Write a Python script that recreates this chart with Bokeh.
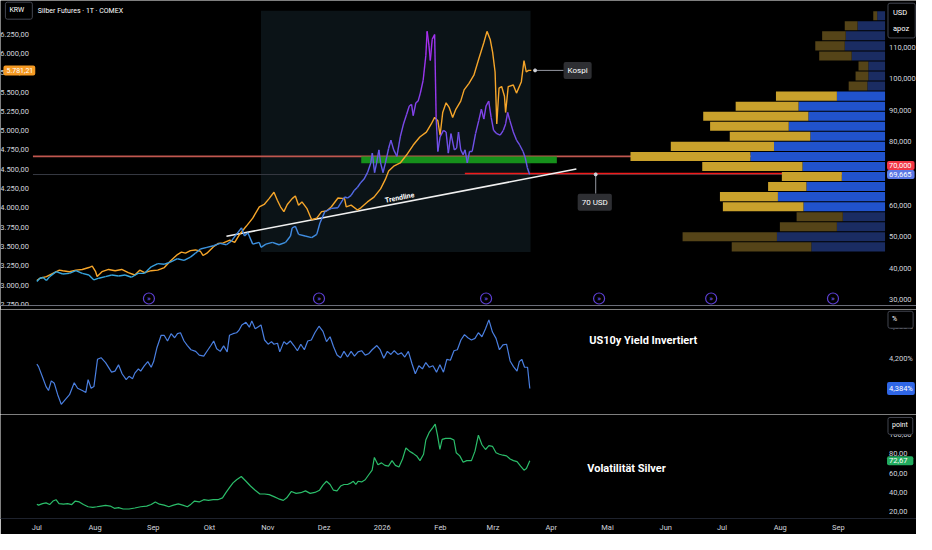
import numpy as np
from bokeh.plotting import figure
from bokeh.models import Range1d, LinearAxis, FixedTicker, Label, ColumnDataSource
from bokeh.layouts import column
from bokeh.embed import file_html
from bokeh.resources import INLINE
from bokeh.core.properties import value

# ---------------- data (x = days since 2025-07-01) ----------------
month_days = [0, 31, 62, 92, 123, 153, 184, 215, 243, 274, 304, 335, 365, 396, 427]
month_labels = ["Jul", "Aug", "Sep", "Okt", "Nov", "Dez", "2026", "Feb", "Mrz",
                "Apr", "Mai", "Jun", "Jul", "Aug", "Sep"]

kospi_day = [0, 1.6, 5.1, 8.5, 12.0, 13.8, 17.3, 20.8, 24.2, 27.7,
             29.5, 31.3, 32.1, 34.7, 38.2, 41.7, 45.2, 48.7, 52.2, 54.8,
             57.4, 60.9, 64.4, 67.9, 71.4, 74.9, 77.0, 79.2, 81.8, 84.5,
             87.1, 88.5, 90.6, 94.1, 96.7, 99.3, 102.8, 105.4, 108.0, 111.5,
             115.0, 118.5, 121.1, 123.7, 126.3, 128.1, 129.8, 131.6, 133.4, 136.0,
             137.7, 139.4, 141.2, 143.8, 146.4, 149.1, 151.7, 154.3, 156.9, 160.4,
             163.9, 164.8, 167.4, 170.8, 172.6, 176.1, 179.6, 183.1, 185.7, 187.4,
             190.1, 193.6, 197.0, 200.5, 204.0, 207.5, 210.1, 211.9, 213.6, 214.8,
             216.2, 218.0, 219.7, 221.5, 223.2, 225.8, 227.6, 230.2, 232.8, 235.4,
             238.1, 239.8, 241.5, 242.8, 244.1, 245.0, 246.2, 247.6, 249.1, 249.7,
             251.1, 253.8, 255.5, 258.1, 259.5, 260.7, 261.9, 263.4]
kospi_val = [3059, 3088, 3110, 3152, 3193, 3186, 3173, 3193, 3202, 3227,
             3244, 3173, 3110, 3173, 3202, 3186, 3202, 3160, 3130, 3193,
             3160, 3186, 3193, 3227, 3319, 3395, 3426, 3413, 3446, 3455,
             3438, 3383, 3413, 3496, 3539, 3547, 3581, 3552, 3657, 3761,
             3867, 4014, 4044, 4120, 4203, 4098, 4014, 3951, 4044, 4120,
             4153, 4035, 4077, 3994, 3846, 3868, 3951, 3960, 4014, 4128,
             4120, 4014, 4035, 3972, 4001, 4077, 4140, 4246, 4372, 4477,
             4540, 4582, 4688, 4814, 4919, 4982, 5087, 5172, 5130, 4941,
             5235, 5361, 5298, 5172, 5277, 5383, 5529, 5614, 5719, 5929,
             6140, 6287, 6182, 6014, 5761, 5087, 5551, 5572, 5446, 5235,
             5572, 5592, 5487, 5635, 5908, 5761, 5782, 5781.21]

silver_day = [0, 1.6, 3.3, 5.1, 6.8, 10.3, 13.8, 17.3, 20.8, 24.2,
              27.7, 30.4, 33.0, 36.5, 39.9, 43.5, 47.0, 50.4, 53.9, 57.4,
              60.9, 64.4, 67.9, 71.4, 74.9, 78.4, 81.8, 84.5, 87.1, 90.6,
              94.1, 97.5, 101.0, 103.7, 106.3, 109.0, 110.6, 112.4, 115.0, 118.5,
              119.4, 122.0, 125.5, 129.0, 132.5, 135.1, 136.0, 137.7, 139.4, 142.9,
              146.4, 149.1, 150.8, 153.4, 156.9, 160.4,
              163.9, 165.6, 167.4, 169.1, 170.8, 172.6, 174.3, 176.1, 177.9, 178.7,
              179.9, 181.0, 182.2, 183.1, 184.4, 185.7, 187.4, 188.6, 190.1, 191.8,
              193.6, 195.3, 197.0, 198.4, 199.6, 200.5, 201.9, 203.1, 204.3, 205.8,
              207.2, 207.9, 208.9, 209.6, 210.6, 211.9, 212.7, 213.6, 214.8, 216.6,
              218.0, 219.2, 220.6, 222.4, 223.6, 224.6, 225.8, 227.1, 228.1, 229.3,
              230.5, 231.9, 233.7, 235.4, 236.8, 238.1, 239.3, 240.7, 242.0, 243.3,
              245.0, 246.8, 248.5, 249.7, 250.8, 252.0, 253.8, 255.5, 257.2, 259.0,
              260.2, 261.3, 262.5]
silver_val = [35.78, 36.80, 37.01, 36.09, 37.32, 38.87, 38.13, 38.34, 39.18, 38.34,
              37.82, 36.27, 36.80, 37.32, 37.82, 37.51, 37.82, 37.11, 38.34, 38.34,
              40.41, 41.43, 41.22, 41.96, 42.98, 42.45, 43.50, 44.74, 46.07, 46.59,
              47.09, 47.83, 47.40, 48.63, 50.70, 52.77, 50.18, 51.23, 47.61, 48.14,
              46.59, 47.61, 48.14, 47.40, 48.14, 50.18, 52.77, 53.27, 50.70, 50.18,
              49.68, 50.70, 54.32, 57.90, 58.95, 59.14,
              62.54, 62.23, 63.06, 64.61, 65.63, 67.17, 68.22, 70.26, 73.35, 76.44,
              70.26, 73.35, 77.49, 73.35, 70.26, 73.35, 77.99, 80.58, 77.49, 75.42,
              81.60, 85.71, 88.80, 91.40, 91.89, 88.31, 92.42, 92.94, 95.51, 99.62,
              107.34, 115.07, 110.43, 105.80, 112.50, 114.05, 87.78, 76.97, 81.60, 83.67,
              83.15, 76.44, 82.62, 77.49, 77.99, 83.15, 77.49, 75.95, 77.49, 73.35,
              76.97, 76.97, 82.62, 86.76, 90.35, 87.26, 91.40, 92.94, 87.78, 83.67,
              82.62, 82.13, 83.67, 85.71, 89.33, 86.76, 83.15, 80.58, 79.04, 76.97,
              74.90, 71.81, 69.665]

us10y_day = [0, 0.9, 3.0, 4.9, 6.2, 7.7, 9.3, 11.1, 13.0, 14.9,
             17.4, 19.9, 21.7, 24.2, 26.1, 27.3, 28.9, 30.4, 32.3, 34.2,
             36.6, 39.8, 41.6, 43.5, 45.4, 47.6, 49.1, 51.0, 52.2, 54.1,
             55.3, 57.2, 59.1, 60.9, 62.2, 64.0, 66.2, 67.8, 69.6, 71.5,
             73.4, 74.9, 76.5, 78.4, 80.2, 82.1, 84.6, 86.5, 88.9, 90.8,
             92.7, 94.2, 95.8, 97.7, 99.5, 101.4, 102.6, 104.5, 106.4, 107.6,
             109.2, 111.4, 113.2, 114.5, 116.3, 117.6, 119.4, 121.3, 123.2, 125.0,
             126.3, 128.2, 129.4, 131.6, 133.1, 135.0, 136.9, 138.8, 140.6, 142.5,
             144.3, 146.2, 148.1, 150.3, 152.4, 154.3, 156.2, 158.0, 159.9, 161.8,
             163.6, 165.5, 167.4, 169.2, 171.1, 173.0, 174.9, 176.7, 178.6, 181.1,
             182.9, 184.8, 186.7, 188.6, 190.4, 192.3, 194.2, 196.0, 197.9, 199.8,
             201.6, 203.5, 205.4, 207.2, 209.1, 211.0, 212.9, 214.7, 216.6, 218.4,
             220.3, 222.2, 224.0, 225.9, 227.8, 229.6, 231.5, 233.4, 235.2, 237.1,
             239.0, 240.8, 242.7, 244.6, 246.4, 248.3, 250.2, 252.1, 253.9, 255.8,
             257.0, 258.3, 259.8, 261.4, 262.6]
us10y_val = [4.234, 4.249, 4.313, 4.372, 4.396, 4.337, 4.352, 4.422, 4.481, 4.455,
             4.422, 4.348, 4.382, 4.396, 4.408, 4.329, 4.382, 4.372, 4.204, 4.194,
             4.224, 4.283, 4.277, 4.238, 4.293, 4.329, 4.309, 4.323, 4.289, 4.263,
             4.277, 4.244, 4.218, 4.253, 4.218, 4.131, 4.056, 4.056, 4.091, 4.046,
             4.071, 4.046, 4.040, 4.091, 4.119, 4.145, 4.155, 4.178, 4.184, 4.151,
             4.119, 4.091, 4.139, 4.155, 4.121, 4.158, 4.056, 4.046, 4.040, 4.026,
             3.992, 3.976, 4.006, 3.967, 4.016, 4.006, 3.992, 4.085, 4.111, 4.095,
             4.111, 4.105, 4.158, 4.095, 4.111, 4.091, 4.119, 4.151, 4.111, 4.145,
             4.091, 4.085, 4.040, 4.000, 4.032, 4.095, 4.065, 4.125, 4.178, 4.194,
             4.155, 4.190, 4.155, 4.184, 4.158, 4.151, 4.178, 4.170, 4.145, 4.119,
             4.145, 4.198, 4.155, 4.174, 4.151, 4.174, 4.164, 4.190, 4.155, 4.230,
             4.293, 4.244, 4.263, 4.224, 4.253, 4.244, 4.283, 4.238, 4.283, 4.204,
             4.210, 4.151, 4.145, 4.085, 4.052, 4.071, 4.085, 4.075, 4.040, 4.065,
             4.016, 3.961, 4.036, 4.075, 4.145, 4.115, 4.111, 4.214, 4.249, 4.277,
             4.218, 4.204, 4.253, 4.253, 4.384]

vol_day = [0, 0.9, 3.0, 4.9, 6.8, 8.6, 10.2, 11.8, 14.2, 16.4,
           18.6, 20.5, 22.6, 24.8, 27.3, 29.8, 32.0, 34.2, 36.6, 39.1,
           41.3, 43.5, 46.0, 49.1, 52.2, 55.3, 58.5, 60.9, 63.1, 65.3,
           67.8, 70.3, 72.8, 75.3, 77.7, 80.2, 82.1, 84.0, 86.5, 88.9,
           91.4, 93.9, 96.4, 98.9, 100.8, 102.6, 104.5, 106.4, 108.9, 111.4,
           113.8, 116.3, 118.8, 121.3, 123.8, 126.3, 128.8, 131.3, 133.1, 135.6,
           138.1, 140.6, 143.1, 145.6, 148.1, 150.6, 152.4, 154.3, 156.2, 158.0,
           159.9, 161.8, 163.6, 165.5, 167.4, 168.6, 169.9, 171.1, 173.0, 174.9,
           176.7, 178.6, 179.8, 181.7, 183.6, 185.4, 187.3, 189.2, 191.0, 192.9,
           194.8, 196.6, 198.5, 200.4, 202.3, 204.1, 206.0, 207.2, 209.1, 211.0,
           212.2, 213.4, 214.7, 215.9, 217.8, 220.3, 222.2, 223.4, 225.3, 227.1,
           229.0, 231.5, 233.4, 235.2, 237.1, 239.0, 240.8, 242.7, 244.6, 246.4,
           248.3, 250.2, 252.1, 253.9, 255.8, 257.7, 259.5, 260.8, 262.6]
vol_val = [27.9, 26.9, 28.5, 29.2, 27.5, 31.1, 32.5, 28.5, 27.9, 28.5,
           27.5, 31.1, 30.2, 27.5, 25.2, 24.6, 25.2, 25.9, 26.6, 25.9,
           23.6, 24.3, 22.9, 22.9, 23.9, 25.2, 25.9, 27.5, 30.2, 27.9,
           26.9, 25.2, 26.9, 28.2, 26.9, 25.2, 27.9, 31.1, 30.2, 32.5,
           31.8, 32.5, 32.5, 34.4, 40.0, 44.9, 49.9, 53.1, 56.4, 51.5,
           46.6, 42.3, 38.4, 38.4, 37.7, 35.7, 33.4, 31.8, 34.4, 41.0,
           39.0, 39.7, 41.6, 39.0, 40.0, 42.3, 47.6, 51.5, 48.2, 42.3,
           41.6, 46.6, 48.2, 48.2, 49.9, 51.5, 48.2, 51.5, 50.8, 53.1,
           58.0, 63.0, 76.1, 68.5, 70.5, 67.9, 67.2, 72.8, 67.9, 66.2,
           74.5, 85.9, 82.6, 80.3, 77.7, 72.8, 79.4, 94.1, 102.3, 107.2,
           110.5, 99.1, 84.3, 94.8, 95.8, 95.8, 94.1, 81.0, 77.7, 71.2,
           72.8, 72.8, 82.6, 99.1, 89.2, 84.3, 88.2, 87.6, 81.0, 79.4,
           78.4, 77.7, 74.5, 72.8, 71.8, 67.2, 63.0, 64.6, 72.67]

# fixed range volume profile (rows bottom -> top, in USD)
profile_start, profile_end = 119.4, 263.0
profile_low, profile_high = 45.14, 121.6
value_area_low, value_area_high = 57.9, 96.1
vp_down = [75, 110, 49, 43, 83, 109, 80, 44, 84, 137, 113, 76, 98, 78, 88, 49, 18, 17, 17, 34, 41, 40, 28, 8]
vp_up = [81, 96, 58, 47, 82, 59, 39, 61, 102, 122, 105, 82, 80, 107, 64, 62, 19, 13, 10, 33, 30, 24, 13, 4]

zone_start, zone_end, zone_low, zone_high = 172.8, 277.0, 73.26, 75.42
level_70, level_70_start = 70.0, 228.0
trend_day = [101.0, 287.4]
trend_val = [50.08, 71.4]
event_days = [59.7, 150.3, 239.3, 299.5, 359.2, 424.1]
kospi_note_day, usd_note_day = 280.6, 297.7

# ---------------- layout / styling ----------------
BG = "#000000"
FONT = "Roboto"
TXT = "#d1d4dc"
SEP = "#6a6d78"
ORANGE = "#f5a52a"
BOXLINE = "#434651"
W = 916
SX = W / 932.0           # screen scale relative to the reference

pane_left, pane_right = -2.09, 451.83     # where the price scales sit (days)
x_range = Range1d(-19.37, 468.59)


def de(v, nd):
    s = f"{v:,.{nd}f}"
    return s.replace(",", "X").replace(".", ",").replace("X", ".")


def make_fig(height, y_range, bottom=0):
    p = figure(width=W, height=height, x_range=x_range, y_range=y_range,
               output_backend="svg", toolbar_location=None,
               x_axis_location="below", y_axis_location=None,
               min_border_left=0, min_border_right=0, min_border_top=0, min_border_bottom=bottom,
               background_fill_color=BG, border_fill_color=BG, outline_line_color=None)
    p.grid.visible = False
    return p


def price_axis(p, side, ticks, labels, y_range_name="default"):
    ax = LinearAxis(y_range_name=y_range_name)
    ax.fixed_location = pane_left if side == "left" else pane_right
    ax.ticker = FixedTicker(ticks=ticks)
    ax.major_label_overrides = dict(zip(ticks, labels))
    ax.axis_line_color = None
    ax.major_tick_line_color = None
    ax.minor_tick_line_color = None
    ax.major_tick_out = 0
    ax.major_tick_in = 0
    ax.major_label_standoff = 4
    ax.major_label_text_color = TXT
    ax.major_label_text_font = FONT
    ax.major_label_text_font_size = "7.5px"
    p.add_layout(ax, side)
    return ax


def separator(ax):
    ax.ticker = FixedTicker(ticks=[])
    ax.axis_line_color = SEP
    ax.axis_line_width = 1
    ax.major_tick_line_color = None
    ax.minor_tick_line_color = None
    ax.major_tick_out = 0
    ax.major_label_standoff = 0
    ax.major_label_text_font_size = "0px"


def label(p, x, y, text, bg=None, color="#ffffff", xu="data", yu="data", yr="default",
          align="left", base="middle", size="7.5px", border=None, angle=0.0, pad=2,
          style="normal", yoff=0, lh=1.2):
    p.add_layout(Label(x=x, y=y, x_units=xu, y_units=yu, y_range_name=yr, text=text,
                       text_color=color, text_font=FONT, text_font_size=size,
                       text_align=align, text_baseline=base, background_fill_color=bg,
                       border_line_color=border, padding=pad, border_radius=2,
                       angle=angle, text_font_style=style, y_offset=yoff,
                       text_line_height=lh))


# ---------------- main panel ----------------
krw_range = Range1d(2735, 6687)
p1 = make_fig(309, krw_range, bottom=4)
p1.extra_y_ranges = {"usd": Range1d(28.15, 124.83)}
p1.extra_x_ranges = {"vp": Range1d(900, -32)}

krw_ticks = list(range(2750, 6251, 250))
price_axis(p1, "left", krw_ticks, [de(t, 2) for t in krw_ticks])
usd_ticks = list(range(30, 111, 10))
price_axis(p1, "right", usd_ticks, [de(t, 3) for t in usd_ticks], "usd")
separator(p1.xaxis[0])

# profile range box
p1.quad(left=profile_start, right=profile_end, bottom=profile_low, top=profile_high,
        y_range_name="usd", fill_color="#0b1317", line_color=None)

# levels
p1.segment(x0=[pane_left], y0=[silver_val[-1]], x1=[pane_right], y1=[silver_val[-1]],
           y_range_name="usd", line_color="#363943", line_width=1)
p1.segment(x0=[pane_left], y0=[zone_high], x1=[pane_right], y1=[zone_high],
           y_range_name="usd", line_color="#c0574f", line_width=1.6)
p1.segment(x0=[level_70_start], y0=[level_70], x1=[pane_right], y1=[level_70],
           y_range_name="usd", line_color="#f01a1a", line_width=1.5)
p1.quad(left=zone_start, right=zone_end, bottom=zone_low, top=zone_high,
        y_range_name="usd", fill_color="#16901b", line_color=None)

# volume profile
n_rows = len(vp_down)
edges = np.linspace(profile_low, profile_high, n_rows + 1)
centers = (edges[:-1] + edges[1:]) / 2
row_h = (edges[1] - edges[0]) * 0.9
inside = [(value_area_low <= c <= value_area_high) for c in centers]
down = np.array(vp_down, dtype=float)
up = np.array(vp_up, dtype=float)
vp_src = ColumnDataSource(dict(
    y=centers, d0=np.zeros(n_rows), d1=down, u1=down + up,
    dc=["#2153cc" if i else "#1a2c62" for i in inside],
    uc=["#c9a12c" if i else "#554418" for i in inside]))
p1.hbar(y="y", left="d0", right="d1", height=row_h, source=vp_src, fill_color="dc",
        line_color=None, x_range_name="vp", y_range_name="usd")
p1.hbar(y="y", left="d1", right="u1", height=row_h, source=vp_src, fill_color="uc",
        line_color=None, x_range_name="vp", y_range_name="usd")

# trendline
p1.line(trend_day, trend_val, y_range_name="usd", line_color="#f0f0f0", line_width=1.6)
label(p1, 193.7, 61.0, "Trendline", yr="usd", align="center", base="bottom",
      size="7px", angle=0.19, style="bold", pad=0)

# Kospi line
p1.line(kospi_day, kospi_val, line_color=ORANGE, line_width=1.4)

# Silver line, coloured by value
stops_v = [35, 50, 62, 75, 90, 105, 118]
stops_c = [(52, 172, 222), (64, 142, 226), (80, 112, 232), (104, 88, 232),
           (132, 68, 236), (160, 52, 240), (178, 44, 240)]


def silver_col(v):
    r = np.interp(v, stops_v, [c[0] for c in stops_c])
    g = np.interp(v, stops_v, [c[1] for c in stops_c])
    b = np.interp(v, stops_v, [c[2] for c in stops_c])
    return "#%02x%02x%02x" % (int(r), int(g), int(b))


sv = np.array(silver_val)
sd = np.array(silver_day)
seg = ColumnDataSource(dict(x0=sd[:-1], x1=sd[1:], y0=sv[:-1], y1=sv[1:],
                            c=[silver_col((a + b) / 2) for a, b in zip(sv[:-1], sv[1:])]))
p1.segment(x0="x0", y0="y0", x1="x1", y1="y1", source=seg, line_color="c",
           line_width=1.4, y_range_name="usd")

# callouts
p1.line([kospi_day[-1] + 2, kospi_note_day], [kospi_val[-1]] * 2, line_color="#9598a1", line_width=1)
p1.scatter([kospi_day[-1] + 2], [kospi_val[-1]], size=3, color="#d1d4dc")
label(p1, kospi_note_day, kospi_val[-1], "Kospi", bg="#2e2f33", size="8px", pad=4)

p1.line([usd_note_day, usd_note_day], [level_70, level_70 - 6.4], y_range_name="usd",
        line_color="#9598a1", line_width=1)
p1.scatter([usd_note_day], [level_70 - 0.3], y_range_name="usd", size=3, color="#d1d4dc")
label(p1, usd_note_day - 0.5, level_70 - 9.1, "70 USD", bg="#2e2f33", yr="usd",
      align="center", size="8px", pad=4)

# event icons
icon_y = krw_range.start + 0.023 * (krw_range.end - krw_range.start)
p1.scatter(event_days, [icon_y] * len(event_days), size=11, fill_color=BG,
           line_color="#5d3fd3", line_width=1.2)
p1.text(event_days, [icon_y] * len(event_days), text=["»"] * len(event_days),
        text_font=value(FONT), text_font_size="8px", text_color="#7a5cf0",
        text_align="center", text_baseline="middle")

# header / scale boxes
label(p1, 5 * SX, 6555, "KRW", bg=BG, border=BOXLINE, xu="screen", size="7px",
      pad=(4, 8, 4, 5))
label(p1, 38 * SX, 6555, "Silber Futures · 1T · COMEX", xu="screen", size="7px", pad=0)
label(p1, 903 * SX, 6652, "USD\napoz", bg=BG, border=BOXLINE, xu="screen", base="top",
      size="7.5px", pad=(5, 6, 5, 5), lh=1.75)
label(p1, 3 * SX, kospi_val[-1], de(kospi_val[-1], 2), bg="#f59a23", xu="screen",
      size="7px", pad=(3, 2, 3, 2))
label(p1, 902 * SX, level_70, de(level_70, 3), bg="#f23645", xu="screen", yr="usd",
      size="7.5px", yoff=8, pad=(2, 3, 2, 2))
label(p1, 902 * SX, silver_val[-1], de(silver_val[-1], 3), bg="#5b78e6", xu="screen",
      yr="usd", size="7.5px", pad=(2, 3, 2, 2))

# ---------------- US10y panel ----------------
p2 = make_fig(105, Range1d(4.544, 3.897))
y_ticks = [4.0, 4.2, 4.4]
price_axis(p2, "right", y_ticks, [de(t, 3) + "%" for t in y_ticks])
separator(p2.xaxis[0])
p2.line(us10y_day, us10y_val, line_color="#4a7fe0", line_width=1.2)
label(p2, 294.2, 4.087, "US10y Yield Invertiert", size="11px", style="bold", pad=0)
label(p2, 903 * SX, 3.960, "%", bg=BG, border=BOXLINE, xu="screen", size="7px",
      pad=(4, 16, 4, 5))
label(p2, 902 * SX, us10y_val[-1], de(us10y_val[-1], 3) + "%", bg="#2f66e6", xu="screen",
      size="7.5px", pad=(2, 2, 2, 2))

# ---------------- volatility panel ----------------
p3 = make_fig(120, Range1d(13.1, 120.4))
v_ticks = [20, 40, 60, 80, 100]
price_axis(p3, "right", v_ticks, [de(t, 2) for t in v_ticks])
xa = p3.xaxis[0]
xa.ticker = FixedTicker(ticks=month_days)
xa.major_label_overrides = dict(zip(month_days, month_labels))
xa.axis_line_color = "#1e222d"
xa.major_tick_line_color = None
xa.minor_tick_line_color = None
xa.major_tick_out = 0
xa.major_label_standoff = 4
xa.major_label_text_color = TXT
xa.major_label_text_font = FONT
xa.major_label_text_font_size = "7.5px"
p3.line(vol_day, vol_val, line_color="#2bbd6a", line_width=1.2)
label(p3, 293.2, 64.3, "Volatilität Silver", size="11px", style="bold", pad=0)
label(p3, 903 * SX, 108.6, "point", bg=BG, border=BOXLINE, xu="screen", size="7px",
      pad=(4, 5, 4, 5))
label(p3, 902 * SX, vol_val[-1], de(vol_val[-1], 2), bg="#22ab5e", xu="screen",
      size="7.5px", pad=(2, 6, 2, 2))

layout = column(p1, p2, p3, spacing=0)
open("out.html", "w").write(file_html(layout, INLINE))
